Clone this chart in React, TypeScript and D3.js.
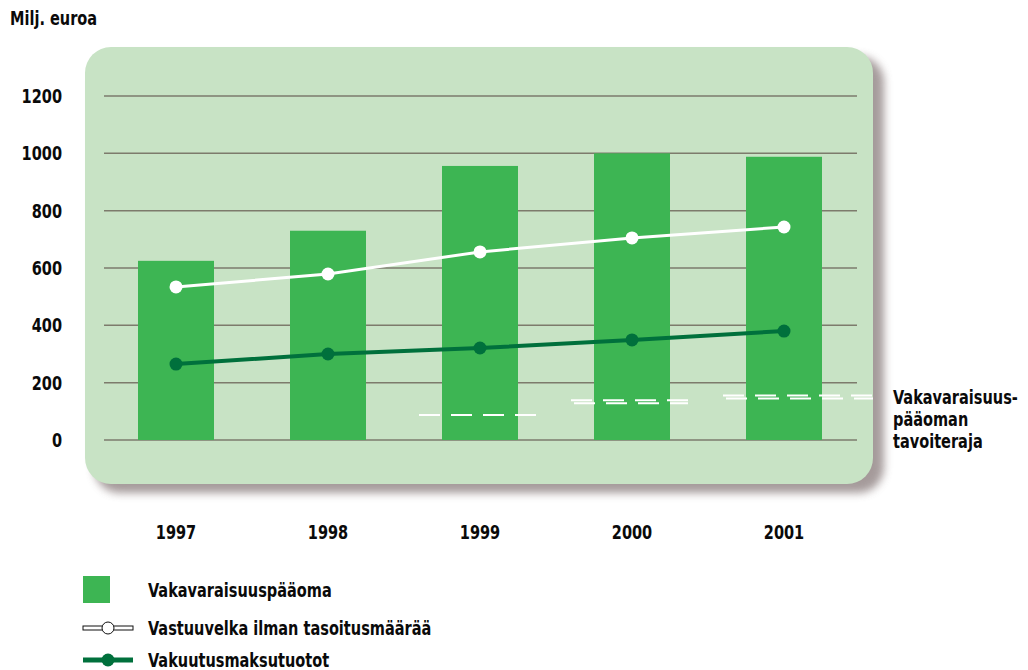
import React from "react";
import * as d3 from "d3";

const years = ["1997", "1998", "1999", "2000", "2001"];
const capital = [625, 730, 956, 1000, 988];
const liability = [534, 579, 656, 705, 743];
const premiums = [265, 300, 321, 349, 380];
const targetYears = ["1999", "2000", "2001"];
const targetValues = [87, 133, 150];
const targetDouble = [false, true, true];
const yTicks = [0, 200, 400, 600, 800, 1000, 1200];
const legendLabels = ["Vakavaraisuuspääoma", "Vastuuvelka ilman tasoitusmäärää", "Vakuutusmaksutuotot"];
const targetLabel = ["Vakavaraisuus-", "pääoman", "tavoiteraja"];

const FONT = "'Liberation Sans Narrow', 'DejaVu Sans Condensed', 'Arial Narrow', sans-serif";

function T({ x, y, anchor = "start", children }: { x: number; y: number; anchor?: string; children: React.ReactNode }) {
  return (
    <text transform={`translate(${x},${y}) scale(0.85,1)`} dy="0.36em" textAnchor={anchor} fontSize={19} fill="#0a0a0a">
      {children}
    </text>
  );
}

export default function App() {
  const W = 1028, H = 670;
  const y = d3.scaleLinear().domain([0, 1200]).range([440, 96]);
  const x = d3.scaleBand().domain(years).range([100, 860]).paddingInner(0.5).paddingOuter(0.25);
  const bw = x.bandwidth();
  const cx = (yr: string) => (x(yr) as number) + bw / 2;
  const line = d3.line<number>().x((_, i) => cx(years[i])).y((v) => y(v));

  const targetSegs = targetYears.map((yr, i) => {
    const c = cx(yr);
    const x0 = c - 61;
    let x1 = c + 56;
    if (i === targetYears.length - 1) x1 = 873;
    return { x0, x1, y: y(targetValues[i]), dbl: targetDouble[i] };
  });

  return (
    <svg width={W} height={H} style={{ display: "block", position: "absolute", left: 0, top: 0 }} fontFamily={FONT} fontWeight="bold">
      <defs>
        <filter id="sh" x="-10%" y="-10%" width="130%" height="130%">
          <feGaussianBlur stdDeviation="4" />
        </filter>
      </defs>
      <rect x={0} y={0} width={W} height={H} fill="#fff" />
      <T x={10} y={18}>Milj. euroa</T>
      <rect x={94} y={56} width={790} height={437} rx={26} fill="#8f8282" opacity={0.8} filter="url(#sh)" />
      <rect x={85} y={47} width={788} height={437} rx={26} fill="#c8e3c5" />
      {yTicks.map((t) => (
        <g key={t}>
          <line x1={104} x2={857} y1={y(t)} y2={y(t)} stroke="#7d7b6c" strokeWidth={1.5} />
          <T x={62} y={y(t)} anchor="end">{t}</T>
        </g>
      ))}
      {years.map((yr, i) => (
        <rect key={yr} x={x(yr)} y={y(capital[i])} width={bw} height={y(0) - y(capital[i])} fill="#3db553" />
      ))}
      {targetSegs.map((s, i) => (
        <g key={i} stroke="#fff" strokeWidth={2} strokeDasharray="21 11">
          {s.dbl ? (
            <>
              <line x1={s.x0} x2={s.x1} y1={s.y - 1.5} y2={s.y - 1.5} />
              <line x1={s.x0 + 3} x2={s.x1} y1={s.y + 1.5} y2={s.y + 1.5} />
            </>
          ) : (
            <line x1={s.x0} x2={s.x1} y1={s.y} y2={s.y} />
          )}
        </g>
      ))}
      <path d={line(liability) as string} fill="none" stroke="#fff" strokeWidth={3} />
      {liability.map((v, i) => (
        <circle key={i} cx={cx(years[i])} cy={y(v)} r={6.5} fill="#fff" />
      ))}
      <path d={line(premiums) as string} fill="none" stroke="#00703c" strokeWidth={4} />
      {premiums.map((v, i) => (
        <circle key={i} cx={cx(years[i])} cy={y(v)} r={6.5} fill="#00703c" />
      ))}
      {years.map((yr) => (
        <T key={yr} x={cx(yr)} y={532} anchor="middle">{yr}</T>
      ))}
      {targetLabel.map((l, i) => (
        <T key={l} x={893} y={397 + i * 22}>{l}</T>
      ))}
      <rect x={83} y={576} width={27} height={27} fill="#3db553" />
      <T x={148} y={590}>{legendLabels[0]}</T>
      <rect x={83} y={626} width={50} height={4} fill="#fff" stroke="#111" strokeWidth={1} />
      <circle cx={108} cy={628} r={6} fill="#fff" stroke="#111" strokeWidth={1} />
      <T x={148} y={628}>{legendLabels[1]}</T>
      <line x1={83} x2={133} y1={660} y2={660} stroke="#00703c" strokeWidth={5} />
      <circle cx={108} cy={660} r={6.5} fill="#00703c" />
      <T x={148} y={660}>{legendLabels[2]}</T>
    </svg>
  );
}
